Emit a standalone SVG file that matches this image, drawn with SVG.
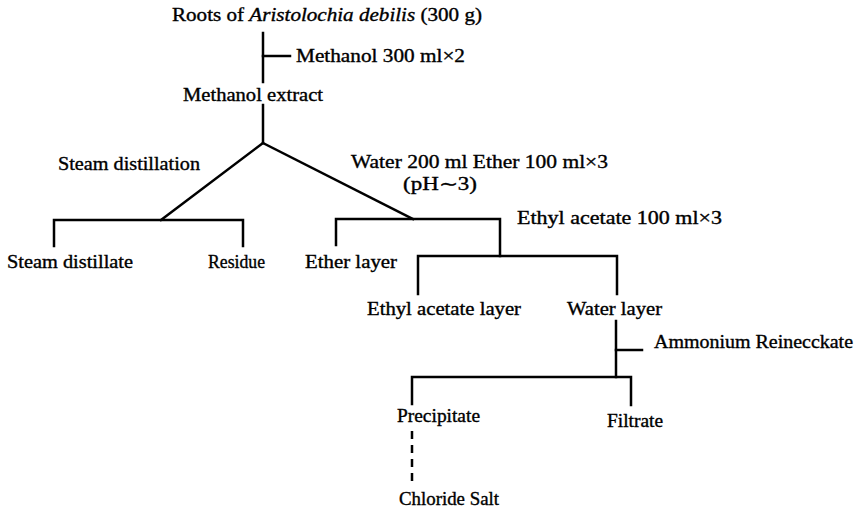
<svg xmlns="http://www.w3.org/2000/svg" width="857" height="510" viewBox="0 0 857 510">
<style>
text{font-family:"Liberation Serif","Times New Roman",serif;font-size:18px;fill:#000;stroke:#000;stroke-width:0.35;}
.it{font-style:italic;}
.ln{stroke:#000;stroke-width:2.5;fill:none;stroke-linecap:square;}
.dash{stroke:#000;stroke-width:2.5;fill:none;stroke-dasharray:8 6;}
</style>
<rect width="857" height="510" fill="#fff"/>
<g id="connectors">
<path class="ln" d="M263,33 V82"/>
<path class="ln" d="M263,56 H290"/>
<path class="ln" d="M263,105 V143"/>
<path class="ln" d="M263,143 L161,220"/>
<path class="ln" d="M263,143 L413,219"/>
<path class="ln" d="M54,246 V220 H243 V246"/>
<path class="ln" d="M336,245 V219 H500 V256"/>
<path class="ln" d="M418,294 V256 H617 V294"/>
<path class="ln" d="M616,321 V377"/>
<path class="ln" d="M616,350 H642"/>
<path class="ln" d="M412,404 V377 H631 V405"/>
<path class="dash" d="M412,431 V487"/>
</g>
<g id="roots"><text x="172" y="21" textLength="310" lengthAdjust="spacingAndGlyphs">Roots of <tspan class="it">Aristolochia debilis</tspan> (300 g)</text></g>
<g id="methanol-label"><text x="296" y="62" textLength="169" lengthAdjust="spacingAndGlyphs">Methanol 300 ml×2</text></g>
<g id="methanol-extract"><text x="183" y="101" textLength="140" lengthAdjust="spacingAndGlyphs">Methanol extract</text></g>
<g id="steam-distillation"><text x="58" y="170" textLength="142" lengthAdjust="spacingAndGlyphs">Steam distillation</text></g>
<g id="water-ether"><text x="351" y="168" textLength="257" lengthAdjust="spacingAndGlyphs">Water 200 ml Ether 100 ml×3</text><text x="403" y="190" textLength="74" lengthAdjust="spacingAndGlyphs">(pH∼3)</text></g>
<g id="ethyl-acetate-label"><text x="517" y="224" textLength="205" lengthAdjust="spacingAndGlyphs">Ethyl acetate 100 ml×3</text></g>
<g id="steam-distillate"><text x="7" y="268" textLength="126" lengthAdjust="spacingAndGlyphs">Steam distillate</text></g>
<g id="residue"><text x="208" y="268" textLength="57" lengthAdjust="spacingAndGlyphs">Residue</text></g>
<g id="ether-layer"><text x="305" y="268" textLength="92" lengthAdjust="spacingAndGlyphs">Ether layer</text></g>
<g id="ethyl-acetate-layer"><text x="367" y="315" textLength="154" lengthAdjust="spacingAndGlyphs">Ethyl acetate layer</text></g>
<g id="water-layer"><text x="567" y="315" textLength="95" lengthAdjust="spacingAndGlyphs">Water layer</text></g>
<g id="ammonium"><text x="654" y="348" textLength="199" lengthAdjust="spacingAndGlyphs">Ammonium Reinecckate</text></g>
<g id="precipitate"><text x="397" y="422" textLength="83" lengthAdjust="spacingAndGlyphs">Precipitate</text></g>
<g id="filtrate"><text x="607" y="427" textLength="56" lengthAdjust="spacingAndGlyphs">Filtrate</text></g>
<g id="chloride-salt"><text x="399" y="505" textLength="100" lengthAdjust="spacingAndGlyphs">Chloride Salt</text></g>
</svg>
